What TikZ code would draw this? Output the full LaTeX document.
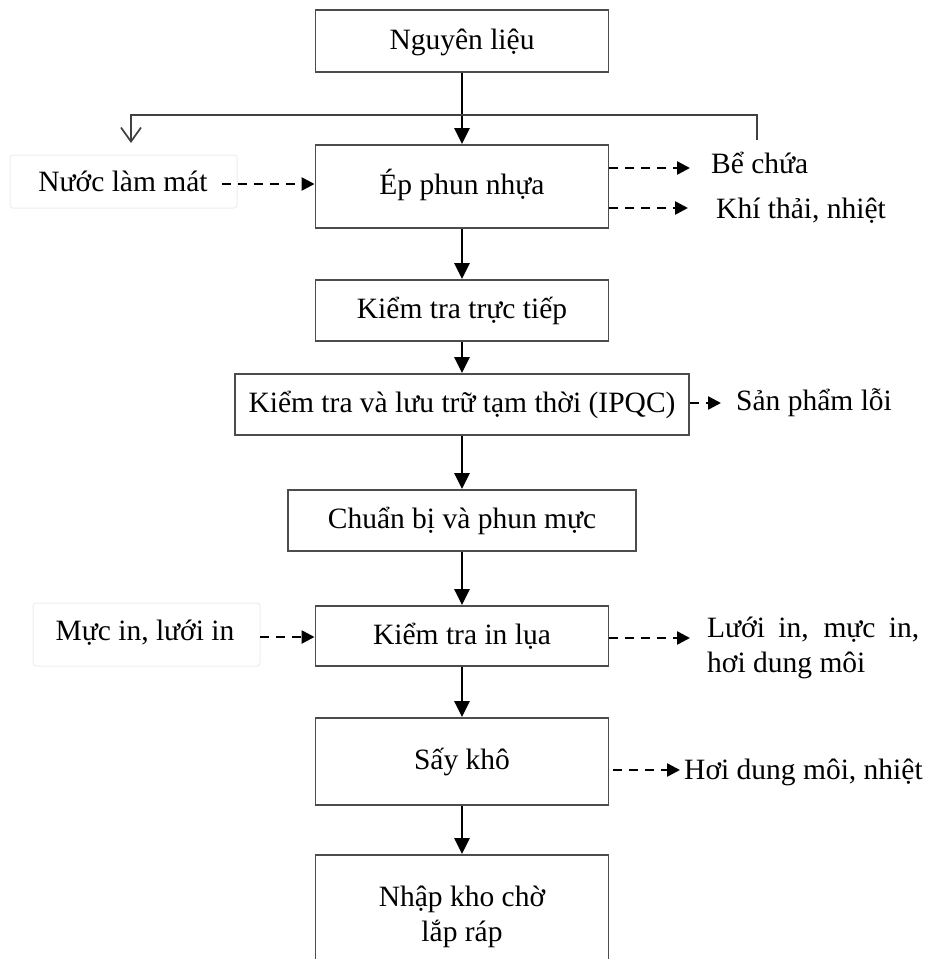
\documentclass[tikz,border=0pt]{standalone}
\usepackage{fontspec}
\setmainfont{Liberation Serif}
\usetikzlibrary{arrows.meta}
\begin{document}
\begin{tikzpicture}[x=1pt,y=-1pt,
  every node/.style={font=\fontsize{29.5}{35}\selectfont, inner sep=0pt,
    text height=22pt, text depth=6pt},
  stage/.style={draw=black!70, line width=1.9pt, minimum width=293pt},
  flow/.style={line width=2.7pt, -{Triangle[length=16pt,width=15pt]}},
  waste/.style={line width=2.5pt, dash pattern=on 9pt off 7pt,
    -{Triangle[length=13pt,width=13pt]}},
  branch/.style={draw=black!75, line width=1.7pt},
  backdrop/.style={draw=black!7, line width=1pt, rounded corners=3pt},
  side/.style={anchor=west}
]
\useasboundingbox (0,0) rectangle (933,959);
\clip (0,0) rectangle (933,959);

% process stages
\node[stage, minimum height=62pt] (src) at (462,41) {Nguyên liệu};
\node[stage, minimum height=83pt] (mould) at (462,186.5) {Ép phun nhựa};
\node[stage, minimum height=61pt] (check) at (462,310.5) {Kiểm tra trực tiếp};
\node[stage, minimum width=454pt, minimum height=61pt] (ipqc) at (462,404.5)
  {Kiểm tra và lưu trữ tạm thời (IPQC)};
\node[stage, minimum width=348pt, minimum height=61pt] (ink) at (462,520.5)
  {Chuẩn bị và phun mực};
\node[stage, minimum height=60pt] (silk) at (462,636) {Kiểm tra in lụa};
\node[stage, minimum height=87pt] (dry) at (462,761.5) {Sấy khô};
\node[stage, minimum height=124pt, align=center, text height={}, text depth={}]
  (store) at (462,917) {Nhập kho chờ\\lắp ráp};

% inputs
\node[backdrop, minimum width=227pt, minimum height=53pt] (coolbg) at (123.5,181.5) {};
\node (cool) at (123,183) {Nước làm mát};
\node[backdrop, minimum width=227pt, minimum height=63pt] (inkbg) at (146.5,634.5) {};
\node (inkin) at (145,632) {Mực in, lưới in};

% outputs
\node[side] (tank) at (711,165) {Bể chứa};
\node[side] (gas) at (716,210) {Khí thải, nhiệt};
\node[side] (reject) at (736,402) {Sản phẩm lỗi};
\node[side, align=left, text height={}, text depth={}] (fumes) at (707,648)
  {\makebox[212pt][s]{Lưới in, mực in,}\\hơi dung môi};
\node[side] (vapour) at (684,771) {Hơi dung môi, nhiệt};

% main flow
\draw[flow] (src.south) -- (mould.north);
\draw[flow] (mould.south) -- (check.north);
\draw[flow] (check.south) -- (ipqc.north);
\draw[flow] (ipqc.south) -- (ink.north);
\draw[flow] (ink.south) -- (silk.north);
\draw[flow] (silk.south) -- (dry.north);
\draw[flow] (dry.south) -- (store.north);

% cooling water loop
\coordinate (retn) at (757,140);
\coordinate (coolin) at (131,143);
\draw[branch, -{Straight Barb[length=14pt,width=20pt]}]
  (retn) -- ++(0,-25) -| (coolin);

% material and waste streams
\coordinate (coolout) at (222,184);
\draw[waste] (coolout) -- (coolout -| mould.west);
\coordinate (tankin) at (690,168);
\draw[waste] (mould.east |- tankin) -- (tankin);
\coordinate (gasin) at (688,208);
\draw[waste] (mould.east |- gasin) -- (gasin);
\coordinate (rejectin) at (721,403);
\draw[waste] (ipqc.east |- rejectin) -- (rejectin);
\coordinate (inkout) at (260,637);
\draw[waste] (inkout) -- (inkout -| silk.west);
\coordinate (fumesin) at (690,638);
\draw[waste] (silk.east |- fumesin) -- (fumesin);
\coordinate (vapourin) at (680,770);
\draw[waste, shorten <=4pt] (dry.east |- vapourin) -- (vapourin);
\end{tikzpicture}
\end{document}
